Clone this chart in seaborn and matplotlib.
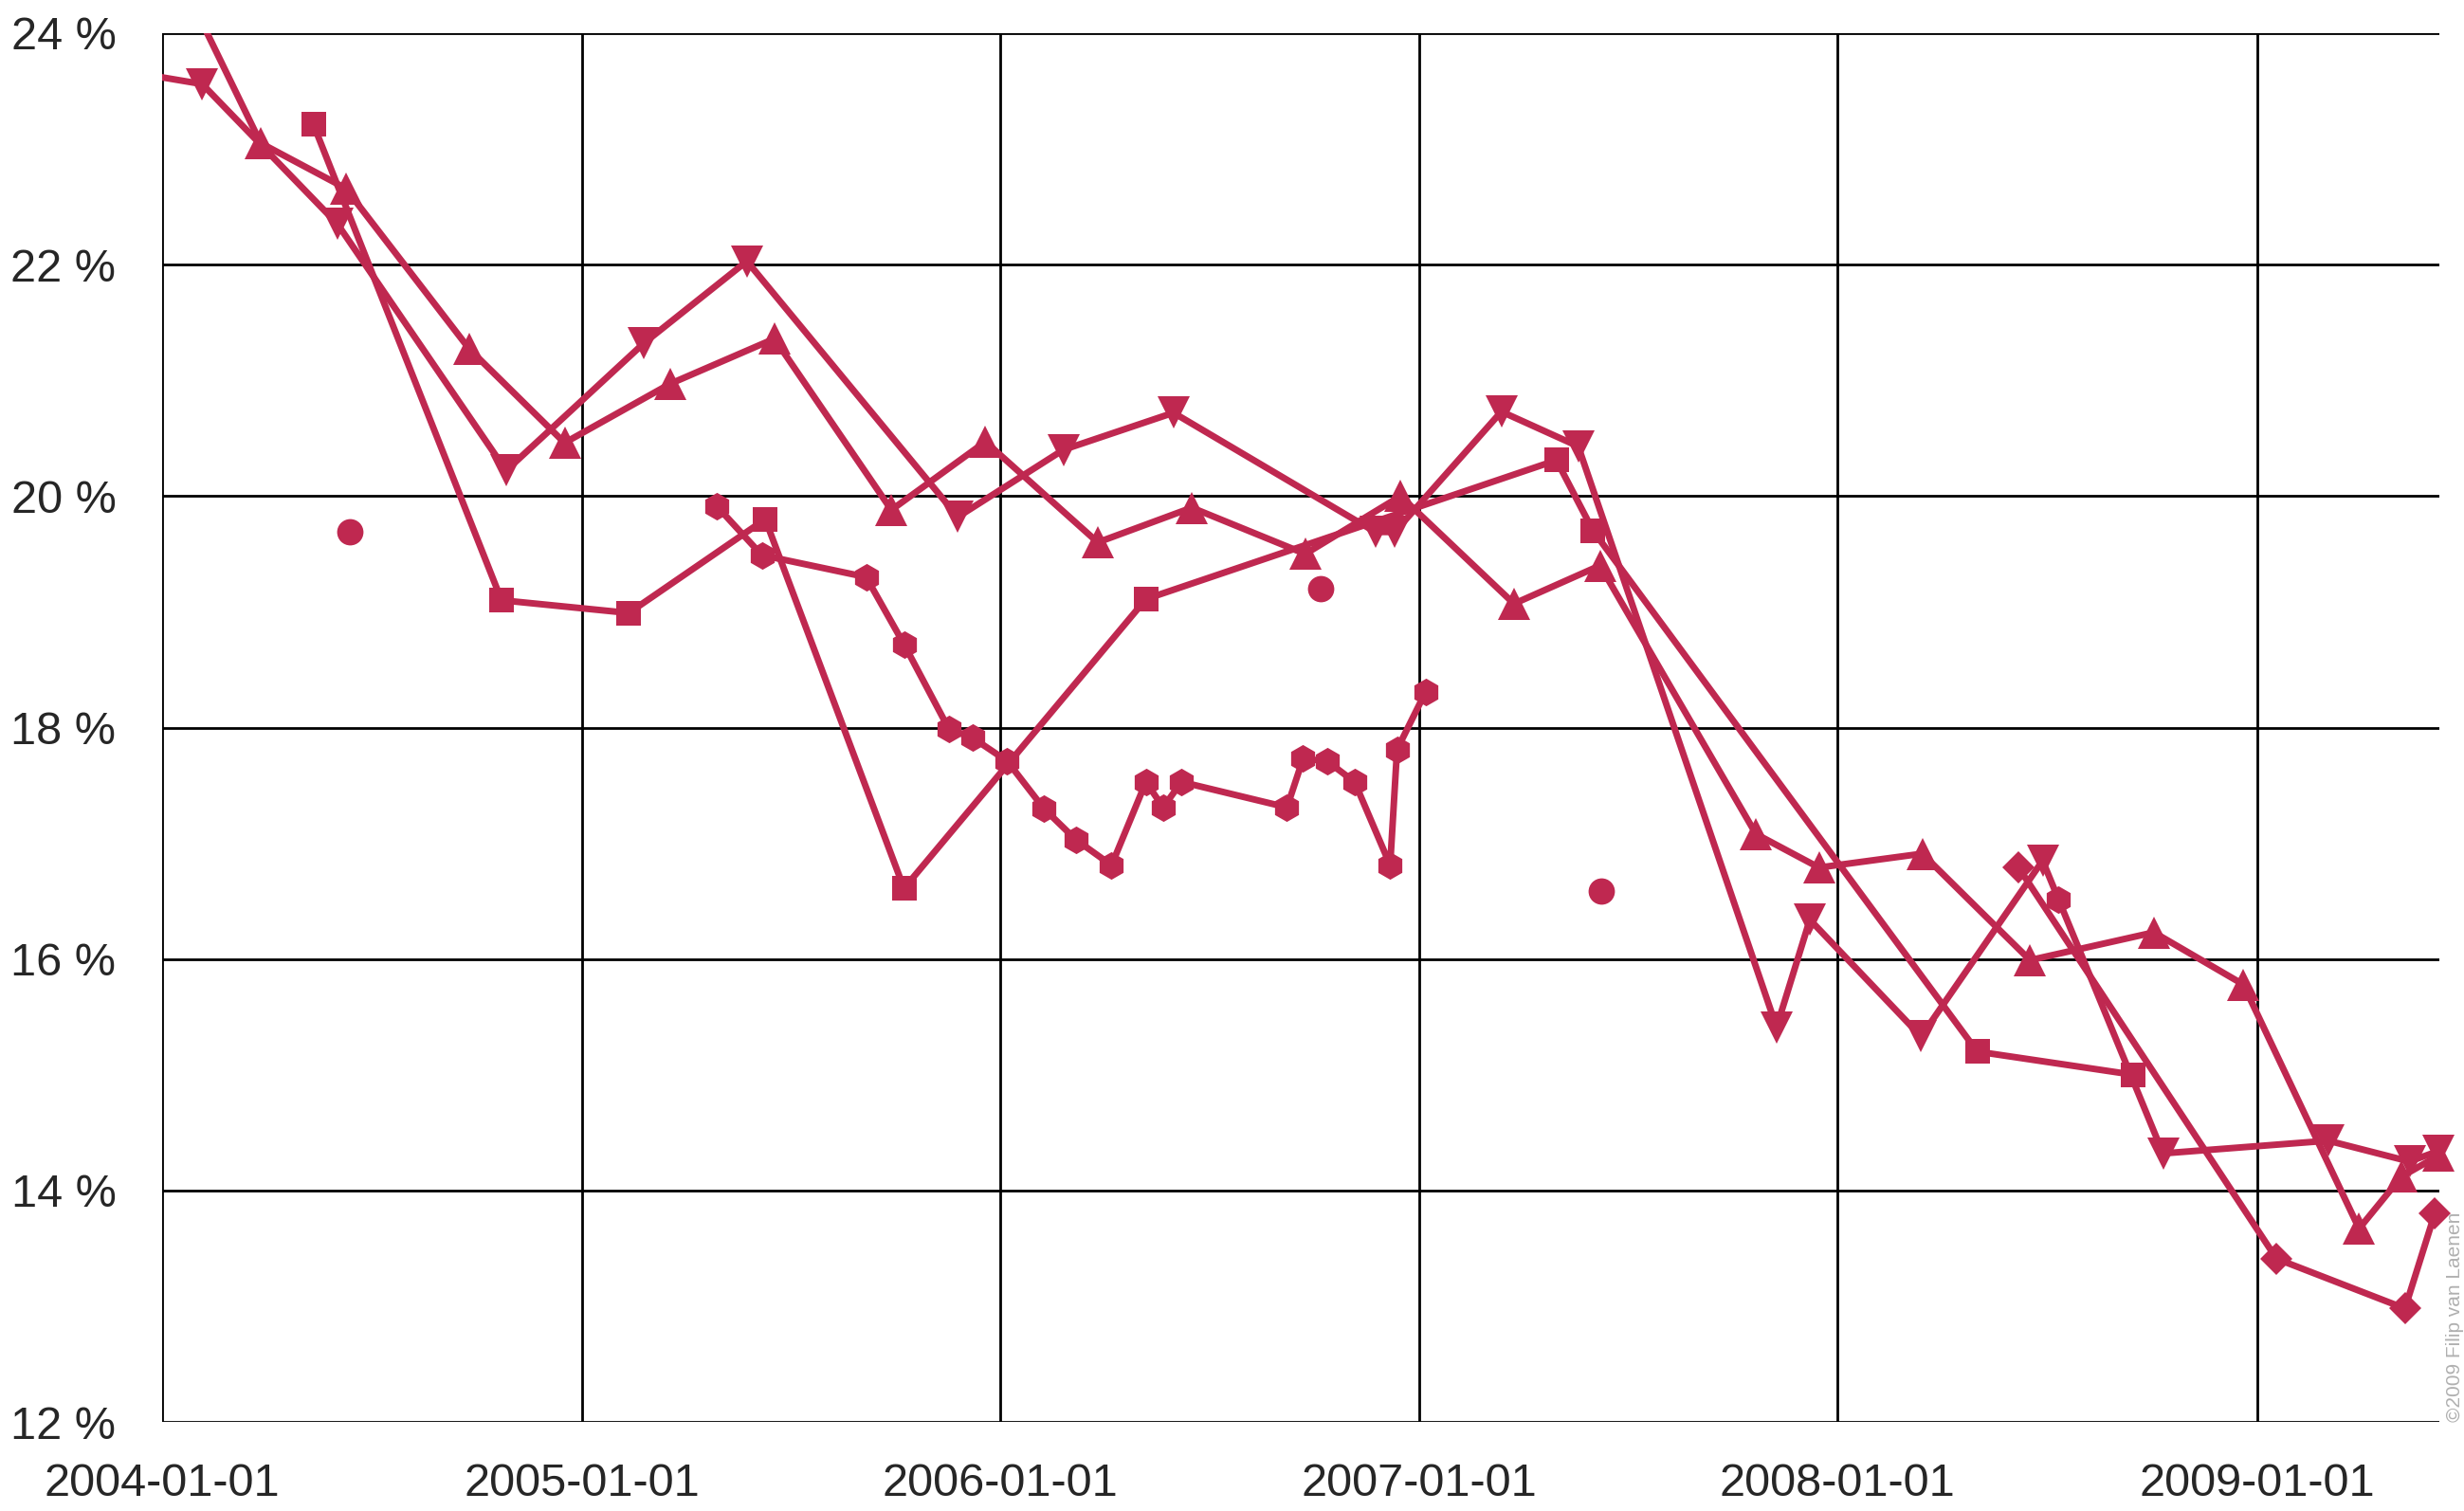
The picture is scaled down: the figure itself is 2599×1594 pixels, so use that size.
import matplotlib
matplotlib.use("Agg")
import matplotlib.pyplot as plt
from matplotlib.patches import Rectangle
import seaborn as sns
import pandas as pd

# --- data (one list pair per pollster / marker) ---
up_dates = ["2004-01-01", "2004-03-27", "2004-06-09", "2004-09-25", "2004-12-17",
            "2005-03-19", "2005-06-18", "2005-09-28", "2005-12-19", "2006-03-27",
            "2006-06-17", "2006-09-24", "2006-12-16", "2007-03-25", "2007-06-08",
            "2007-10-22", "2007-12-16", "2008-03-15", "2008-06-17", "2008-10-03",
            "2008-12-20", "2009-03-31", "2009-05-07", "2009-06-08"]
up_vals = [24.8, 23.05, 22.66, 21.27, 20.46, 20.97, 21.36, 19.88, 20.47, 19.60,
           19.90, 19.50, 20.00, 19.07, 19.40, 17.08, 16.79, 16.91, 15.99, 16.23,
           15.78, 13.67, 14.12, 14.30]

down_dates = ["2003-11-01", "2004-02-05", "2004-06-02", "2004-10-27", "2005-02-24",
              "2005-05-25", "2005-11-25", "2006-02-25", "2006-06-01", "2006-11-24",
              "2006-12-11", "2007-03-14", "2007-05-20", "2007-11-09", "2007-12-08",
              "2008-03-14", "2008-06-28", "2008-10-11", "2009-03-04", "2009-05-14",
              "2009-06-08"]
down_vals = [23.72, 23.56, 22.35, 20.22, 21.32, 22.03, 19.82, 20.40, 20.72, 19.69,
             19.69, 20.73, 20.43, 15.41, 16.34, 15.33, 16.85, 14.32, 14.43, 14.25,
             14.34]

sq_dates = ["2004-05-12", "2004-10-23", "2005-02-11", "2005-06-10", "2005-10-09",
            "2006-05-08", "2007-05-01", "2007-06-02", "2008-05-02", "2008-09-15"]
sq_vals = [23.21, 19.10, 18.99, 19.80, 16.61, 19.11, 20.31, 19.70, 15.20, 15.00]

hex_dates = ["2005-04-29", "2005-06-07", "2005-09-06", "2005-10-09", "2005-11-17",
             "2005-12-08", "2006-01-07", "2006-02-08", "2006-03-08", "2006-04-08",
             "2006-05-08", "2006-05-23", "2006-06-08", "2006-09-08", "2006-09-22",
             "2006-10-13", "2006-11-06", "2006-12-07", "2006-12-13", "2007-01-07"]
hex_vals = [19.91, 19.49, 19.30, 18.72, 17.99, 17.91, 17.71, 17.30, 17.03, 16.81,
            17.53, 17.31, 17.53, 17.31, 17.73, 17.71, 17.53, 16.81, 17.81, 18.31]
hex_single_dates = ["2008-07-12"]
hex_single_vals = [16.51]

dia_dates = ["2008-06-07", "2009-01-18", "2009-05-10", "2009-06-05"]
dia_vals = [16.79, 13.41, 12.98, 13.80]

circ_dates = ["2004-06-13", "2006-10-07", "2007-06-09"]
circ_vals = [19.69, 19.20, 16.59]

year_ticks = ["2004-01-01", "2005-01-01", "2006-01-01", "2007-01-01", "2008-01-01", "2009-01-01"]
pct_ticks = [12, 14, 16, 18, 20, 22, 24]

COLOR = "#BF2850"

sns.set_theme(style="white")
plt.rcParams["font.family"] = ["Liberation Sans Narrow", "Liberation Sans", "DejaVu Sans"]

fig = plt.figure(figsize=(25.99, 15.94), dpi=100)
ax = fig.add_axes([171 / 2599, 1 - 1500 / 1594, (2573 - 171) / 2599, (1500 - 35) / 1594])

# clip only on the left and top, so the last markers can hang over the right end
clip = Rectangle((0, -0.2), 1.2, 1.2, transform=ax.transAxes, facecolor="none")

series = [
    (up_dates, up_vals, "^", 24),
    (down_dates, down_vals, "v", 24),
    (sq_dates, sq_vals, "s", 19),
    (hex_dates, hex_vals, "h", 21),
    (dia_dates, dia_vals, "D", 17),
]
for dates, vals, mk, ms in series:
    df = pd.DataFrame({"date": pd.to_datetime(dates), "pct": vals})
    n_before = len(ax.lines)
    sns.lineplot(data=df, x="date", y="pct", ax=ax, color=COLOR, linewidth=5,
                 marker=mk, markersize=ms, markeredgewidth=0,
                 estimator=None, sort=False)
    for ln in ax.lines[n_before:]:
        ln.set_clip_path(clip)

for dates, vals, mk, ms in [(circ_dates, circ_vals, "o", 20),
                            (hex_single_dates, hex_single_vals, "h", 21)]:
    df = pd.DataFrame({"date": pd.to_datetime(dates), "pct": vals})
    sns.scatterplot(data=df, x="date", y="pct", ax=ax, color=COLOR, marker=mk,
                    s=ms ** 2, linewidth=0, zorder=3)

ax.set_xlim(pd.Timestamp("2004-01-01"), pd.Timestamp("2009-06-09"))
ax.set_ylim(12, 24)

ax.set_xticks(pd.to_datetime(year_ticks))
ax.set_xticklabels(year_ticks, family=["Liberation Sans", "DejaVu Sans"], fontsize=35)
ax.set_yticks(pct_ticks)
ax.set_yticklabels([f"{v} %" for v in pct_ticks], fontsize=35)

ax.grid(True, color="black", linewidth=2.0)
ax.set_axisbelow(True)
ax.tick_params(axis="both", direction="out", length=19, width=2.0, color="black")
ax.tick_params(axis="y", pad=16)
ax.tick_params(axis="x", pad=12)
for sp in ax.spines.values():
    sp.set_visible(False)
ax.set_xlabel("")
ax.set_ylabel("")

fig.text(0.9962, 1 - 1500 / 1594, "\u00a92009 Filip van Laenen", rotation=90,
         ha="center", va="bottom", fontsize=15, color="#B0B0B0",
         family=["Liberation Sans", "DejaVu Sans"])

fig.savefig("out.png", dpi=100)
